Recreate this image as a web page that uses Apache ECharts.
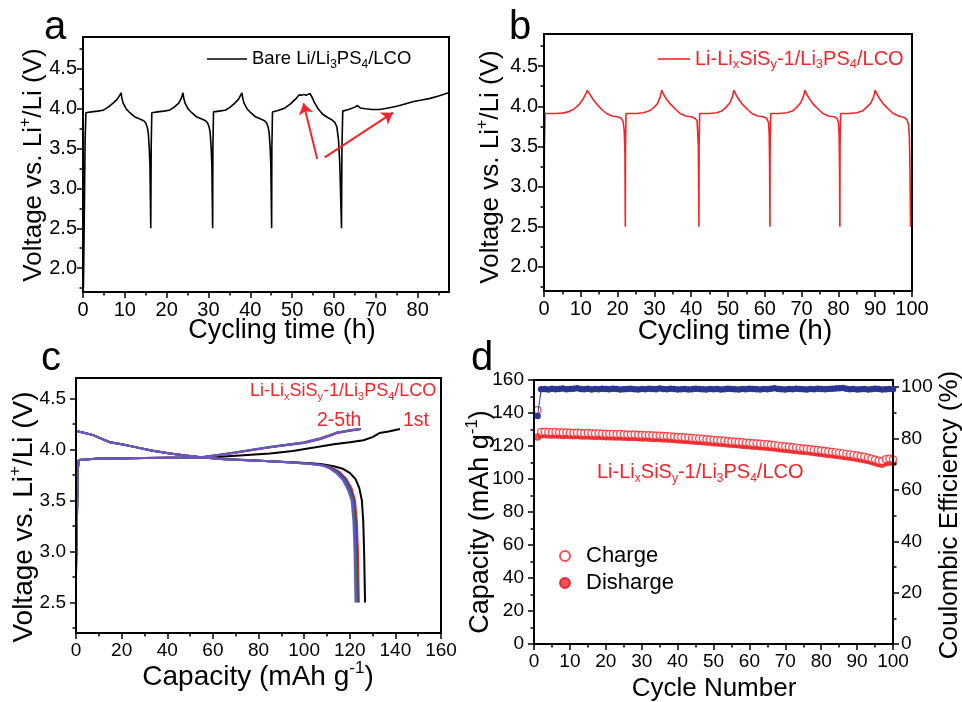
<!DOCTYPE html>
<html>
<head>
<meta charset="utf-8">
<script src="https://cdn.jsdelivr.net/npm/echarts@6/dist/echarts.min.js"></script>
<style>html,body{margin:0;padding:0;background:#fff}#chart{width:962px;height:702px}</style>
</head>
<body>
<div id="chart"></div>
<script>
// ---------- Panel a : Bare Li/Li3PS4/LCO, voltage vs cycling time ----------
const aBareLi = [
[0.1,1.75],[0.3,2.6],[0.5,3.6],[0.7,3.95],[2,3.96],[3.5,3.97],[4.8,3.98],[6,4.02],[7.2,4.07],[8.2,4.12],[8.8,4.17],[9.1,4.2],
[9.3,4.13],[9.6,4.07],[10.3,4.0],[11.2,3.95],[12.3,3.9],[13.6,3.87],[14.5,3.85],[15.0,3.82],[15.4,3.76],[15.6,3.7],[15.85,3.5],[16.0,3.3],[16.1,2.9],[16.2,2.5],
[16.3,3.5],[16.45,3.95],[17.8,3.96],[19.3,3.97],[20.6,3.98],[21.8,4.02],[22.9,4.07],[23.0,4.08],[23.5,4.13],[23.9,4.2],
[24.1,4.13],[24.4,4.07],[25.1,4.0],[26.0,3.95],[27.1,3.9],[28.4,3.87],[29.3,3.85],[29.8,3.82],[30.2,3.76],[30.4,3.7],[30.65,3.5],[30.8,3.3],[30.9,2.9],[31.0,2.5],
[31.05,3.5],[31.2,3.96],[32.5,3.97],[34,3.98],[35.2,4.02],[36.3,4.07],[37.2,4.12],[37.7,4.17],[38.0,4.2],
[38.2,4.13],[38.5,4.07],[39.2,4.0],[40.1,3.95],[41.2,3.9],[42.5,3.87],[43.4,3.85],[43.9,3.82],[44.3,3.76],[44.5,3.7],[44.75,3.5],[44.9,3.3],[45.0,2.9],[45.1,2.5],
[45.15,3.5],[45.3,3.96],[46.8,3.98],[48.3,4.01],[49.6,4.06],[50.8,4.12],[51.6,4.17],[51.9,4.18],[52.3,4.17],[52.8,4.18],[53.3,4.17],[53.8,4.18],[54.3,4.19],[54.6,4.2],
[54.8,4.14],[55.3,4.08],[56.2,4.0],[57.3,3.93],[58.5,3.89],[59.5,3.86],[60.2,3.83],[60.7,3.77],[61.1,3.6],[61.4,3.3],[61.6,2.9],[61.8,2.5],
[61.9,3.5],[62.1,3.97],[63.5,3.99],[65,4.02],[65.6,4.04],[66.3,4.01],[67.5,4.0],[69,3.99],[71,3.99],[73,4.01],[75,4.03],[77,4.06],[79,4.09],[81,4.11],[83,4.13],[85,4.16],[87.4,4.2]
];
// arrow annotations (tail -> head) in data units of panel a
const aArrows = [[[56.0,3.37],[52.7,4.07]],[[57.8,3.39],[74.1,3.95]]];

// ---------- Panel b : Li-LixSiSy-1/Li3PS4/LCO ----------
const bCoatedLi = [
[0,2.5],[0.1,3.5],[0.3,3.91],[3,3.91],[5,3.915],[6.5,3.93],[8,3.96],[9.3,4.01],[10.5,4.08],[11.3,4.15],[11.8,4.2],[12.1,4.17],[12.3,4.19],[12.6,4.14],
[13.4,4.08],[14.5,4.02],[15.7,3.96],[17,3.91],[18.5,3.88],[20,3.87],[21,3.85],[21.5,3.81],[21.8,3.7],[22.0,3.4],[22.1,2.5],
[22.15,3.5],[22.3,3.91],[25,3.91],[27,3.92],[28.5,3.94],[29.5,3.97],[30.8,4.03],[31.6,4.12],[32.0,4.2],[32.3,4.17],[32.6,4.14],
[33.4,4.08],[34.5,4.02],[35.8,3.96],[37,3.91],[38.5,3.88],[40,3.87],[41,3.85],[41.5,3.84],[41.6,3.82],[41.8,3.8],[41.95,3.5],[42.1,2.5],
[42.15,3.5],[42.3,3.91],[45,3.91],[47,3.92],[48.3,3.94],[49.3,3.98],[50.5,4.04],[51.2,4.12],[51.6,4.2],[51.9,4.17],[52.2,4.14],
[53,4.08],[54,4.02],[55.3,3.96],[56.5,3.91],[58,3.88],[59.5,3.87],[60.5,3.85],[61,3.8],[61.2,3.65],[61.3,3.3],[61.4,2.5],
[61.45,3.5],[61.6,3.91],[64,3.91],[66,3.92],[67.5,3.94],[68.5,3.98],[69.7,4.04],[70.5,4.12],[70.9,4.2],[71.2,4.17],[71.5,4.14],
[72.3,4.08],[73.3,4.02],[74.6,3.96],[75.8,3.91],[77.3,3.88],[78.8,3.87],[79.6,3.85],[80.0,3.8],[80.2,3.65],[80.3,3.3],[80.4,2.5],
[80.45,3.5],[80.6,3.91],[83,3.91],[85,3.92],[86.5,3.94],[87.5,3.98],[88.8,4.04],[89.6,4.12],[90.0,4.2],[90.3,4.17],[90.6,4.14],
[91.4,4.08],[92.4,4.02],[93.7,3.96],[94.9,3.91],[96.4,3.88],[97.9,3.86],[98.7,3.83],[99.1,3.76],[99.3,3.6],[99.45,3.2],[99.6,2.5]
];

// ---------- Panel c : voltage profiles, cycles 1-5 ----------
const cCharge1 = [[0,2.75],[0.4,3.3],[0.8,3.8],[1.2,3.895],[2,3.905],[10,3.91],[20,3.913],[30,3.916],[40,3.918],[50,3.92],[56,3.921],[65,3.93],[75,3.945],[85,3.96],[95,3.985],[105,4.02],[113,4.05],[120,4.07],[126,4.09],[130,4.12],[133,4.16],[137,4.175],[142,4.2]];
const cCharge2 = [[0,2.8],[0.4,3.3],[0.8,3.8],[1.2,3.895],[2,3.905],[10,3.91],[20,3.912],[30,3.915],[40,3.918],[50,3.92],[56,3.925],[65,3.95],[75,3.985],[85,4.02],[92,4.04],[100,4.062],[107,4.1],[111,4.13],[114,4.155],[117,4.17],[121,4.185],[125,4.2]];
const cCharge3 = [[0,2.8],[0.4,3.3],[0.8,3.8],[1.2,3.895],[2,3.905],[10,3.91],[20,3.912],[30,3.915],[40,3.918],[50,3.92],[56,3.926],[65,3.952],[75,3.988],[85,4.022],[92,4.043],[100,4.066],[107,4.105],[111,4.135],[114,4.16],[117,4.175],[121,4.19],[124.8,4.2]];
const cCharge4 = [[0,2.85],[0.4,3.3],[0.8,3.8],[1.2,3.895],[2,3.905],[10,3.91],[20,3.912],[30,3.915],[40,3.918],[50,3.92],[56,3.927],[65,3.955],[75,3.99],[85,4.025],[92,4.046],[100,4.07],[107,4.11],[111,4.14],[114,4.165],[117,4.175],[121,4.19],[124.6,4.2]];
const cCharge5 = [[0,2.9],[0.4,3.3],[0.8,3.8],[1.2,3.895],[2,3.905],[10,3.91],[20,3.912],[30,3.915],[40,3.918],[50,3.92],[56,3.926],[65,3.953],[75,3.988],[85,4.022],[92,4.044],[100,4.067],[107,4.105],[111,4.135],[114,4.16],[117,4.173],[121,4.188],[124.6,4.2]];
const cDischarge1 = [[0,4.18],[3,4.165],[7.6,4.14],[10,4.115],[14.9,4.07],[20,4.05],[26.6,4.02],[33,3.99],[41.2,3.96],[48,3.94],[55.8,3.92],[65,3.905],[75,3.895],[85,3.885],[95,3.875],[103,3.865],[108,3.855],[113,3.835],[117,3.81],[120,3.77],[122.5,3.71],[124.2,3.62],[125.3,3.5],[125.9,3.3],[126.3,3.0],[126.7,2.5]];
const cDischarge2 = [[0,4.18],[3,4.165],[7.6,4.14],[10,4.115],[14.9,4.07],[20,4.05],[26.6,4.02],[33,3.99],[41.2,3.96],[48,3.94],[55.8,3.92],[65,3.903],[75,3.893],[85,3.883],[95,3.872],[103,3.86],[108,3.848],[112,3.825],[115.5,3.78],[118.5,3.71],[120.8,3.62],[122.3,3.5],[123.1,3.3],[123.6,3.0],[124,2.5]];
const cDischarge3 = [[0,4.18],[3,4.165],[7.6,4.14],[10,4.115],[14.9,4.07],[20,4.05],[26.6,4.02],[33,3.99],[41.2,3.96],[48,3.94],[55.8,3.92],[65,3.903],[75,3.893],[85,3.883],[95,3.872],[103,3.86],[108,3.846],[111.5,3.823],[115,3.775],[118,3.705],[120.3,3.61],[121.8,3.5],[122.6,3.3],[123.1,3.0],[123.5,2.5]];
const cDischarge4 = [[0,4.18],[3,4.165],[7.6,4.14],[10,4.115],[14.9,4.07],[20,4.05],[26.6,4.02],[33,3.99],[41.2,3.96],[48,3.94],[55.8,3.92],[65,3.903],[75,3.893],[85,3.883],[95,3.871],[103,3.858],[108,3.843],[111,3.82],[114.5,3.77],[117.5,3.7],[119.8,3.6],[121.3,3.5],[122.1,3.3],[122.6,3.0],[123,2.5]];
const cDischarge5 = [[0,4.18],[3,4.165],[7.6,4.14],[10,4.115],[14.9,4.07],[20,4.05],[26.6,4.02],[33,3.99],[41.2,3.96],[48,3.94],[55.8,3.92],[65,3.903],[75,3.893],[85,3.883],[95,3.87],[103,3.857],[108,3.841],[110.8,3.818],[114,3.77],[117,3.7],[119.3,3.6],[120.8,3.5],[121.6,3.3],[122.1,3.0],[122.5,2.5]];

// ---------- Panel d : cycling performance ----------
const dCycles = [1,2,3,4,5,6,7,8,9,10,11,12,13,14,15,16,17,18,19,20,21,22,23,24,25,26,27,28,29,30,31,32,33,34,35,36,37,38,39,40,41,42,43,44,45,46,47,48,49,50,51,52,53,54,55,56,57,58,59,60,61,62,63,64,65,66,67,68,69,70,71,72,73,74,75,76,77,78,79,80,81,82,83,84,85,86,87,88,89,90,91,92,93,94,95,96,97,98,99,100];
const dCharge = [141.8,
128.6,128.7,128.5,128.4,128.5,128.3,128.2,128.3,128.1,
128.0,128.1,127.9,127.8,127.9,127.7,127.6,127.7,127.5,127.4,
127.4,127.3,127.2,127.3,127.1,127.0,126.9,127.0,126.8,126.7,
126.6,126.6,126.4,126.3,126.3,126.1,126.0,125.9,125.7,125.5,
125.4,125.2,125.1,124.9,124.7,124.6,124.4,124.2,124.0,123.8,
123.6,123.4,123.3,123.0,122.8,122.7,122.5,122.3,122.1,121.9,
121.7,121.6,121.4,121.2,121.1,120.8,120.6,120.3,120.0,119.8,
119.6,119.3,119.1,118.8,118.6,118.4,118.1,117.8,117.6,117.3,
117.0,116.7,116.5,116.2,115.9,115.6,115.3,115.0,114.7,114.3,
113.9,113.5,113.0,112.4,111.8,111.1,110.9,112.0,112.4,111.9];
const dDischarge = [125.5,
126.8,126.9,126.7,126.6,126.7,126.5,126.4,126.5,126.3,
126.2,126.3,126.1,126.0,126.1,125.9,125.8,125.9,125.7,125.6,
125.6,125.5,125.4,125.5,125.3,125.2,125.1,125.2,125.0,124.9,
124.8,124.8,124.6,124.5,124.5,124.3,124.2,124.1,123.9,123.7,
123.6,123.4,123.3,123.1,122.9,122.8,122.6,122.4,122.2,122.0,
121.8,121.6,121.5,121.2,121.0,120.9,120.7,120.5,120.3,120.1,
119.9,119.8,119.6,119.4,119.3,119.0,118.8,118.5,118.2,118.0,
117.8,117.5,117.3,117.0,116.8,116.6,116.3,116.0,115.8,115.5,
115.2,114.9,114.7,114.4,114.1,113.8,113.5,113.2,112.9,112.5,
112.1,111.7,111.2,110.6,110.0,109.3,109.0,109.8,110.3,109.9];
const dCE = [88.8,
99.2,99.3,99.1,99.4,99.2,99.3,99.5,99.2,99.3,
99.4,99.6,99.3,99.2,99.4,99.1,99.3,99.2,99.4,99.3,
99.2,99.4,99.3,99.1,99.2,99.3,99.4,99.2,99.1,99.3,
99.2,99.4,99.3,99.2,99.5,99.3,99.2,99.4,99.3,99.1,
99.2,99.3,99.1,99.2,99.4,99.3,99.2,99.1,99.3,99.2,
99.3,99.1,99.2,99.4,99.3,99.2,99.1,99.3,99.2,99.4,
99.3,99.2,99.1,99.3,99.2,99.4,99.6,99.3,99.2,99.1,
99.3,99.2,99.4,99.3,99.2,99.1,99.3,99.2,99.4,99.3,
99.2,99.3,99.4,99.5,99.6,99.7,99.4,99.2,99.3,99.1,
99.2,99.3,99.1,99.2,99.4,99.3,99.1,99.2,99.3,99.2];

// ---------- tick values ----------
const voltMajorAB = [2.0,2.5,3.0,3.5,4.0,4.5];
const voltMinorAB = [1.75,2.25,2.75,3.25,3.75,4.25,4.75];
const voltMajorC = [2.5,3.0,3.5,4.0,4.5];
const voltMinorC = [2.25,2.75,3.25,3.75,4.25];
const timeMajorA = [0,10,20,30,40,50,60,70,80];
const timeMinorA = [5,15,25,35,45,55,65,75,85];
const timeMajorB = [0,10,20,30,40,50,60,70,80,90,100];
const timeMinorB = [5,15,25,35,45,55,65,75,85,95];
const capMajorC = [0,20,40,60,80,100,120,140,160];
const capMinorC = [10,30,50,70,90,110,130,150];
const cycMajorD = [0,10,20,30,40,50,60,70,80,90,100];
const cycMinorD = [5,15,25,35,45,55,65,75,85,95];
const capMajorD = [0,20,40,60,80,100,120,140,160];
const capMinorD = [10,30,50,70,90,110,130,150];
const ceMajorD = [0,20,40,60,80,100];
const ceMinorD = [10,30,50,70,90];

const FONT = "'Liberation Sans', Arial, Helvetica, sans-serif";
const RED = '#f0262a';
const BLUE = '#2b3592';

function mkAxis(gridIndex, min, max, majors, minors, o) {
  const base = {type:'value', gridIndex, min, max, position:o.position, splitLine:{show:false}, z:5};
  const main = Object.assign({}, base, {
    axisLine:{show:true, onZero:false, lineStyle:{color:'#000', width:2}},
    axisTick:{show:true, inside:false, length:6, customValues:majors, lineStyle:{color:'#000', width:1.5}},
    axisLabel:{show:true, customValues:majors, margin:o.margin, fontSize:o.fontSize, color:'#000', fontFamily:FONT,
      formatter:o.formatter || (v => String(v))}
  });
  const minor = Object.assign({}, base, {
    axisLine:{show:false, onZero:false},
    axisTick:{show:true, inside:false, length:3.5, customValues:minors, lineStyle:{color:'#000', width:1.5}},
    axisLabel:{show:false}
  });
  return [main, minor];
}
const v1 = v => v.toFixed(1);

const xAxes = [].concat(
  mkAxis(0, 0, 87.5, timeMajorA, timeMinorA, {position:'bottom', margin:8, fontSize:20}),
  mkAxis(1, 0, 100, timeMajorB, timeMinorB, {position:'bottom', margin:8, fontSize:20}),
  mkAxis(2, 0, 160, capMajorC, capMinorC, {position:'bottom', margin:8, fontSize:19}),
  mkAxis(3, 0, 100, cycMajorD, cycMinorD, {position:'bottom', margin:8, fontSize:19})
);
const yAxes = [].concat(
  mkAxis(0, 1.7, 4.9, voltMajorAB, voltMinorAB, {position:'left', margin:6, fontSize:20, formatter:v1}),
  mkAxis(1, 1.7, 4.9, voltMajorAB, voltMinorAB, {position:'left', margin:6, fontSize:20, formatter:v1}),
  mkAxis(2, 2.2, 4.7, voltMajorC, voltMinorC, {position:'left', margin:10, fontSize:19, formatter:v1}),
  mkAxis(3, 0, 160, capMajorD, capMinorD, {position:'left', margin:10, fontSize:19}),
  mkAxis(3, 0, 102.8, ceMajorD, ceMinorD, {position:'right', margin:8, fontSize:19})
);

function cLine(name, data, color) {
  return {name, type:'line', xAxisIndex:4, yAxisIndex:4, data, symbol:'none', smooth:false,
    lineStyle:{color, width:2}, itemStyle:{color}, z:3};
}
const cColors = ['#000000', '#f0262a', '#2040e0', '#1f8a3a', '#7452c6'];

const richSub = (size, color) => ({
  s:{fontSize:size, lineHeight:size, verticalAlign:'bottom', fill:color, color:color, fontFamily:FONT},
  p:{fontSize:size, lineHeight:size, verticalAlign:'top', fill:color, color:color, fontFamily:FONT}
});

function gText(x, y, text, size, color, extra) {
  return Object.assign({type:'text', x, y, z:100, style:{
    text, fill:color, fontSize:size, fontFamily:FONT, lineHeight:Math.round(size*1.25),
    align:'left', textAlign:'left', verticalAlign:'middle', textVerticalAlign:'middle',
    rich: richSub(Math.round(size*0.62), color)
  }}, extra || {});
}
function gVText(x, y, text, size, color) {
  const t = gText(x, y, text, size, color, {rotation: Math.PI/2});
  t.style.align = 'center'; t.style.textAlign = 'center';
  return t;
}
function gHText(x, y, text, size, color) {
  const t = gText(x, y, text, size, color);
  t.style.align = 'center'; t.style.textAlign = 'center';
  return t;
}

const option = {
  animation:false,
  backgroundColor:'#fff',
  textStyle:{fontFamily:FONT},
  grid:[
    {left:83, top:37, width:366, height:255, show:true, borderColor:'#000', borderWidth:2, backgroundColor:'transparent'},
    {left:544, top:34, width:368, height:257, show:true, borderColor:'#000', borderWidth:2, backgroundColor:'transparent'},
    {left:76, top:378, width:365, height:255, show:true, borderColor:'#000', borderWidth:2, backgroundColor:'transparent'},
    {left:534, top:380, width:359, height:264, show:true, borderColor:'#000', borderWidth:2, backgroundColor:'transparent'}
  ],
  xAxis:xAxes,
  yAxis:yAxes,
  legend:[
    {data:[{name:'Bare Li/Li3PS4/LCO', icon:'rect'}], left:202, top:42, itemWidth:40, itemHeight:1.6, selectedMode:false,
      formatter:() => 'Bare Li/Li{s|3}PS{s|4}/LCO',
      textStyle:{fontSize:18.5, color:'#000', fontFamily:FONT, lineHeight:24, rich:richSub(12,'#000')}},
    {data:[{name:'Li-LixSiSy-1/Li3PS4/LCO', icon:'rect'}], left:653, top:42, itemWidth:32, itemHeight:1.6, selectedMode:false,
      formatter:() => 'Li-Li{s|x}SiS{s|y}-1/Li{s|3}PS{s|4}/LCO',
      textStyle:{fontSize:20, color:RED, fontFamily:FONT, lineHeight:24, rich:richSub(13,RED)}},
    {data:['Charge','Disharge'], left:554, top:539, orient:'vertical', itemWidth:10, itemHeight:10, itemGap:3, selectedMode:false,
      textStyle:{fontSize:22, color:'#000', fontFamily:FONT, lineHeight:24, padding:[0,0,0,11]}}
  ],
  series:[
    {name:'Bare Li/Li3PS4/LCO', type:'line', xAxisIndex:0, yAxisIndex:0, data:aBareLi, symbol:'none',
      lineStyle:{color:'#000', width:1.6}, itemStyle:{color:'#000'},
      markLine:{silent:true, symbol:['none','arrow'], symbolSize:11, animation:false,
        lineStyle:{color:RED, width:2, type:'solid'}, label:{show:false},
        data: aArrows.map(ar => [{coord:ar[0]}, {coord:ar[1]}])}},
    {name:'Li-LixSiSy-1/Li3PS4/LCO', type:'line', xAxisIndex:2, yAxisIndex:2, data:bCoatedLi, symbol:'none',
      lineStyle:{color:RED, width:1.6}, itemStyle:{color:RED}},
    cLine('c-charge-1', cCharge1, cColors[0]),
    cLine('c-discharge-1', cDischarge1, cColors[0]),
    cLine('c-charge-2', cCharge2, cColors[1]),
    cLine('c-discharge-2', cDischarge2, cColors[1]),
    cLine('c-charge-3', cCharge3, cColors[2]),
    cLine('c-discharge-3', cDischarge3, cColors[2]),
    cLine('c-charge-4', cCharge4, cColors[3]),
    cLine('c-discharge-4', cDischarge4, cColors[3]),
    cLine('c-charge-5', cCharge5, cColors[4]),
    cLine('c-discharge-5', cDischarge5, cColors[4]),
    {name:'Disharge', type:'scatter', xAxisIndex:6, yAxisIndex:6, symbol:'circle', symbolSize:7,
      data:dCycles.map((c,i) => [c, dDischarge[i]]), itemStyle:{color:RED, borderColor:'#d81018', borderWidth:0.5}, z:3},
    {name:'Charge', type:'scatter', xAxisIndex:6, yAxisIndex:6, symbol:'circle', symbolSize:7,
      data:dCycles.map((c,i) => [c, dCharge[i]]), itemStyle:{color:'#fff', borderColor:RED, borderWidth:1.2}, z:4},
    {name:'Coulombic Efficiency', type:'line', xAxisIndex:6, yAxisIndex:8, symbol:'circle', symbolSize:6.5, showAllSymbol:true,
      data:dCycles.map((c,i) => [c, dCE[i]]), lineStyle:{color:BLUE, width:1}, itemStyle:{color:BLUE}, z:5}
  ],
  graphic:[
    gText(44, 28, 'a', 40, '#000'),
    gText(509, 28, 'b', 40, '#000'),
    gText(41, 359, 'c', 40, '#000'),
    gText(471, 359, 'd', 40, '#000'),
    gVText(34, 165, 'Voltage vs. Li{p|+}/Li (V)', 26, '#000'),
    gVText(491, 167, 'Voltage vs. Li{p|+}/Li (V)', 26, '#000'),
    gVText(24, 517, 'Voltage vs. Li{p|+}/Li (V)', 28, '#000'),
    gVText(481, 522, 'Capacity (mAh g{p|-1})', 27, '#000'),
    gVText(950, 515, 'Coulombic Efficiency (%)', 26, '#000'),
    gHText(282, 331, 'Cycling time (h)', 27, '#000'),
    gHText(735, 331, 'Cycling time (h)', 28, '#000'),
    gHText(258, 677, 'Capacity (mAh g{p|-1})', 28, '#000'),
    gHText(714, 689, 'Cycle Number', 26, '#000'),
    gText(250, 391, 'Li-Li{s|x}SiS{s|y}-1/Li{s|3}PS{s|4}/LCO', 18, RED),
    gText(317, 421, '2-5th', 19.5, RED),
    gText(403, 421, '1st', 19.5, RED),
    gText(597, 472, 'Li-Li{s|x}SiS{s|y}-1/Li{s|3}PS{s|4}/LCO', 20, RED)
  ]
};

const chart = echarts.init(document.getElementById('chart'), null, {renderer:'canvas', width:962, height:702});
chart.setOption(option);
</script>
</body>
</html>
